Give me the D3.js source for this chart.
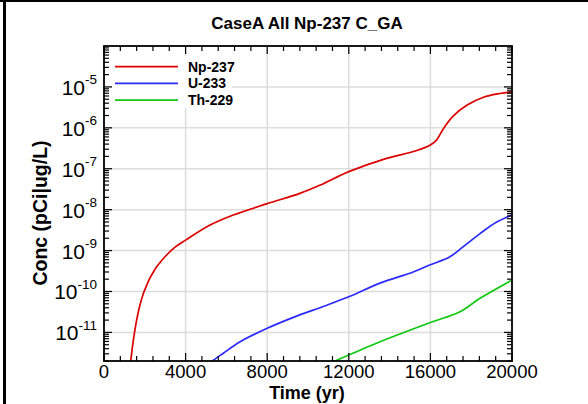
<!DOCTYPE html>
<html><head><meta charset="utf-8">
<script src="https://cdn.jsdelivr.net/npm/d3@7"></script>
<style>
body{margin:0;background:#fff;}
svg{display:block;font-family:"Liberation Sans",Arial,sans-serif;}
</style></head>
<body><svg id="c" width="588" height="404"></svg>
<script>
const title = "CaseA All Np-237 C_GA";
const xLabel = "Time (yr)";
const yLabel = "Conc (pCi|ug/L)";
const seriesNames = ["Np-237", "U-233", "Th-229"];
const seriesColors = ["#dd0000", "#2b2bff", "#10c810"];
const xTickValues = [0, 4000, 8000, 12000, 16000, 20000];
const yTickExponents = [-11, -10, -9, -8, -7, -6, -5];

const npTime = [1150, 1310, 1450, 1600, 1760, 1930, 2100, 2255, 2420, 2580, 2800, 3070, 3500, 4000, 5200, 6340, 8000, 9600, 10600, 12000, 13700, 15300, 16000, 16300, 16600, 17100, 17800, 18600, 19400, 20000];
const npConc = [4e-13, 2e-12, 7e-12, 2.0e-11, 4.6e-11, 8.9e-11, 1.45e-10, 2.14e-10, 3.0e-10, 4.0e-10, 5.5e-10, 7.8e-10, 1.23e-9, 1.8e-9, 4.2e-9, 7.4e-9, 1.4e-8, 2.5e-8, 4.0e-8, 8.5e-8, 1.7e-7, 2.75e-7, 3.8e-7, 5.0e-7, 8.9e-7, 1.9e-6, 3.6e-6, 5.6e-6, 6.9e-6, 7.6e-6];
const uTime = [5000, 5310, 5850, 6670, 8000, 9440, 10750, 12000, 13530, 15160, 16000, 16960, 17600, 18430, 19250, 20000];
const uConc = [1.5e-12, 2e-12, 3.1e-12, 5.9e-12, 1.26e-11, 2.5e-11, 4.3e-11, 7.4e-11, 1.6e-10, 3.0e-10, 4.5e-10, 7.1e-10, 1.23e-9, 2.6e-9, 5.0e-9, 7.4e-9];
const thTime = [11000, 11320, 12000, 13530, 16000, 17450, 18430, 20000];
const thConc = [1.7e-12, 2e-12, 2.8e-12, 5.9e-12, 1.74e-11, 3.2e-11, 6.8e-11, 1.9e-10];

const series = [
  {name: seriesNames[0], color: seriesColors[0], pts: npTime.map((t,i)=>[t,npConc[i]])},
  {name: seriesNames[1], color: seriesColors[1], pts: uTime.map((t,i)=>[t,uConc[i]])},
  {name: seriesNames[2], color: seriesColors[2], pts: thTime.map((t,i)=>[t,thConc[i]])}
];

const svg = d3.select("#c");
const L = 104, R = 512, T = 46, B = 361;
const x = d3.scaleLinear().domain([0, 20000]).range([L, R]);
const y = d3.scaleLog().domain([2e-12, 1e-4]).range([B, T]);

// outer frame lines
svg.append("line").attr("x1",0).attr("x2",588).attr("y1",1).attr("y2",1).attr("stroke","#000").attr("stroke-width",2);
svg.append("line").attr("x1",4.5).attr("x2",4.5).attr("y1",0).attr("y2",404).attr("stroke","#000").attr("stroke-width",3);

// title
svg.append("text").attr("x",307).attr("y",29).attr("text-anchor","middle")
  .attr("font-size",17).attr("font-weight","bold").text(title);

// grid
const grid = svg.append("g").attr("stroke","#dcdcdc").attr("stroke-width",1.5);
xTickValues.slice(1,-1).forEach(v=>grid.append("line").attr("x1",x(v)).attr("x2",x(v)).attr("y1",T).attr("y2",B));
yTickExponents.forEach(e=>grid.append("line").attr("x1",L).attr("x2",R).attr("y1",y(Math.pow(10,e))).attr("y2",y(Math.pow(10,e))));

// legend background
svg.append("rect").attr("x",112).attr("y",56).attr("width",120).attr("height",52).attr("fill","#fff");

// lines
svg.append("clipPath").attr("id","clip").append("rect").attr("x",L).attr("y",T).attr("width",R-L).attr("height",B-T);
const line = d3.line().x(d=>x(d[0])).y(d=>y(d[1])).curve(d3.curveCatmullRom.alpha(0.5));
series.forEach(s=>{
  svg.append("path").attr("clip-path","url(#clip)").attr("d",line(s.pts))
    .attr("fill","none").attr("stroke",s.color).attr("stroke-width",1.7);
});

// legend
series.forEach((s,i)=>{
  const yy = 66.7 + i*16.7;
  svg.append("line").attr("x1",115).attr("x2",178).attr("y1",yy).attr("y2",yy).attr("stroke",s.color).attr("stroke-width",1.7);
  svg.append("text").attr("x",188).attr("y",yy+5).attr("font-size",14).attr("font-weight","bold").text(s.name);
});

// ticks
const tk = svg.append("g").attr("stroke","#000").attr("stroke-width",1.2);
const xMinor = d3.range(0, 20001, 800);
xMinor.forEach(v=>{
  const major = v % 4000 === 0;
  const len = major ? 8 : 5;
  tk.append("line").attr("x1",x(v)).attr("x2",x(v)).attr("y1",B).attr("y2",B-len);
  tk.append("line").attr("x1",x(v)).attr("x2",x(v)).attr("y1",T).attr("y2",T+len);
});
for (let e=-12; e<=-5; e++){
  for (let m=1; m<=9; m++){
    const v = m*Math.pow(10,e);
    if (v < 2e-12*0.999 || v > 1e-4*1.001) continue;
    const len = m===1 ? 8 : 5;
    tk.append("line").attr("x1",L).attr("x2",L+len).attr("y1",y(v)).attr("y2",y(v));
    tk.append("line").attr("x1",R).attr("x2",R-len).attr("y1",y(v)).attr("y2",y(v));
  }
}
// frame
svg.append("rect").attr("x",L).attr("y",T).attr("width",R-L).attr("height",B-T)
  .attr("fill","none").attr("stroke","#000").attr("stroke-width",1.8);

// x tick labels
xTickValues.forEach(v=>{
  svg.append("text").attr("x",x(v)).attr("y",378).attr("text-anchor","middle")
    .attr("font-size",18.5).text(v);
});
// y tick labels
yTickExponents.forEach(e=>{
  const t = svg.append("text").attr("x",97).attr("y",y(Math.pow(10,e))+8).attr("text-anchor","end").attr("font-size",21);
  t.append("tspan").text("10");
  t.append("tspan").attr("font-size",13.5).attr("dy",-10.5).text(String(e));
});

// axis labels
svg.append("text").attr("x",307).attr("y",399).attr("text-anchor","middle")
  .attr("font-size",18).attr("font-weight","bold").text(xLabel);
svg.append("text").attr("transform","translate(47,213) rotate(-90)").attr("text-anchor","middle")
  .attr("font-size",19.5).attr("font-weight","bold").text(yLabel);
</script></body></html>
